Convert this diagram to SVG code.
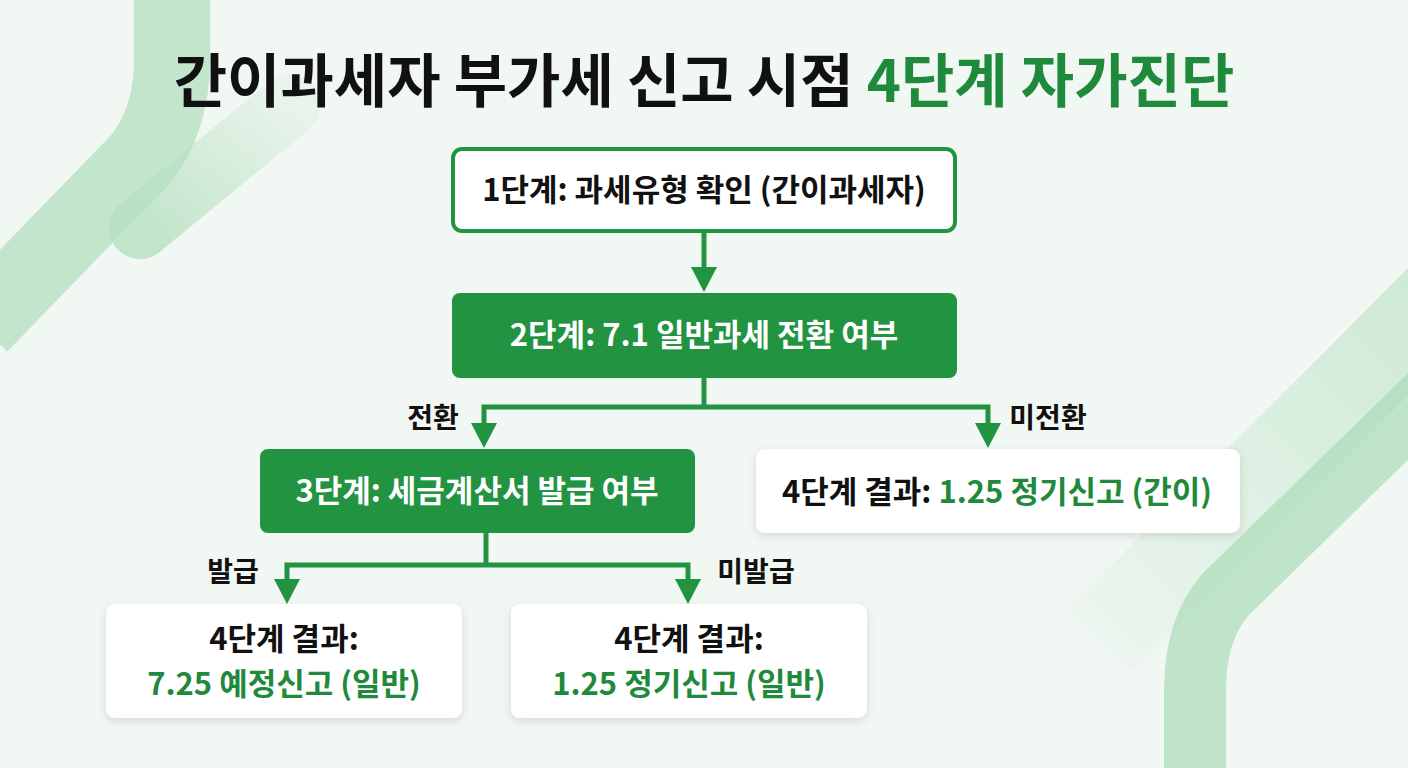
<svg xmlns="http://www.w3.org/2000/svg" width="1408" height="768" viewBox="0 0 1408 768">
<defs>
<style>
text{font-family:"Noto Sans CJK KR","Noto Sans",sans-serif;font-weight:700;text-anchor:middle}
.blk{fill:#111}
.grn{fill:#1f8a3c}
.wht{fill:#fff}
.t{font-size:31px}
.lbl{font-size:28px}
.conn{stroke:#229341;stroke-width:5;fill:none}
.head{fill:#229341}
.gbox{fill:#229341}
.wbox{fill:#fff}
</style>
<filter id="sh" x="-10%" y="-20%" width="120%" height="150%">
<feDropShadow dx="0" dy="3" stdDeviation="4" flood-color="#000" flood-opacity="0.12"/>
</filter>
<linearGradient id="fadeA" x1="0" y1="1" x2="1" y2="0">
<stop offset="0" stop-color="#b5e0c0" stop-opacity="0.8"/>
<stop offset="1" stop-color="#b5e0c0" stop-opacity="0.15"/>
</linearGradient>
<linearGradient id="fadeB" x1="1" y1="0" x2="0" y2="1">
<stop offset="0" stop-color="#bfe4c9" stop-opacity="0.7"/>
<stop offset="1" stop-color="#bfe4c9" stop-opacity="0.1"/>
</linearGradient>
</defs>
<rect width="1408" height="768" fill="#f1f7f3"/>
<g id="decor">
<path d="M-20,325 L140,160 Q172,120 172,60 L172,-10" stroke="#b3dfbf" stroke-opacity="0.75" stroke-width="76" fill="none"/>
<path d="M140,228 L290,105" stroke="url(#fadeA)" stroke-width="62" stroke-linecap="round" fill="none"/>
<path d="M1440,300 L1100,640" stroke="url(#fadeB)" stroke-width="90" fill="none"/>
<path d="M1430,395 L1225,595 Q1195,630 1195,690 L1195,790" stroke="#a9dbb6" stroke-opacity="0.7" stroke-width="62" fill="none"/>
</g>
<g id="title">
<text x="704" y="102" style="font-size:58px"><tspan class="blk">간이과세자 부가세 신고 시점 </tspan><tspan class="grn">4단계 자가진단</tspan></text>
</g>
<g id="connectors">
<path class="conn" d="M704,232 L704,270"/>
<polygon class="head" points="691,267 717,267 704,292"/>
<path class="conn" d="M704,377 L704,407 M481.5,407 L990.5,407 M484,405 L484,426 M988,405 L988,426"/>
<polygon class="head" points="471,423 497,423 484,448"/>
<polygon class="head" points="975,423 1001,423 988,448"/>
<path class="conn" d="M486,532 L486,565 M284.5,565 L690.5,565 M287,563 L287,582 M688,563 L688,582"/>
<polygon class="head" points="274,579 300,579 287,604"/>
<polygon class="head" points="675,579 701,579 688,604"/>
</g>
<g id="labels">
<text class="blk lbl" x="433" y="428">전환</text>
<text class="blk lbl" x="1048" y="428">미전환</text>
<text class="blk lbl" x="233" y="582">발급</text>
<text class="blk lbl" x="756" y="582">미발급</text>
</g>
<g id="step1">
<rect x="453" y="149" width="502" height="82" rx="9" fill="#fff" stroke="#229341" stroke-width="4"/>
<text class="blk t" x="704" y="201">1단계: 과세유형 확인 (간이과세자)</text>
</g>
<g id="step2">
<rect class="gbox" x="452" y="293" width="505" height="85" rx="8"/>
<text class="wht t" x="704" y="346">2단계: 7.1 일반과세 전환 여부</text>
</g>
<g id="step3">
<rect class="gbox" x="260" y="449" width="435" height="84" rx="8"/>
<text class="wht t" x="477" y="502">3단계: 세금계산서 발급 여부</text>
</g>
<g id="result1">
<rect class="wbox" x="756" y="449" width="484" height="84" rx="9" filter="url(#sh)"/>
<text class="t" x="997" y="503"><tspan class="blk">4단계 결과: </tspan><tspan class="grn">1.25 정기신고 (간이)</tspan></text>
</g>
<g id="result2">
<rect class="wbox" x="106" y="604" width="356" height="114" rx="9" filter="url(#sh)"/>
<text class="blk t" x="284" y="650">4단계 결과:</text>
<text class="grn t" x="284" y="695">7.25 예정신고 (일반)</text>
</g>
<g id="result3">
<rect class="wbox" x="511" y="604" width="356" height="114" rx="9" filter="url(#sh)"/>
<text class="blk t" x="689" y="650">4단계 결과:</text>
<text class="grn t" x="689" y="695">1.25 정기신고 (일반)</text>
</g>
</svg>
